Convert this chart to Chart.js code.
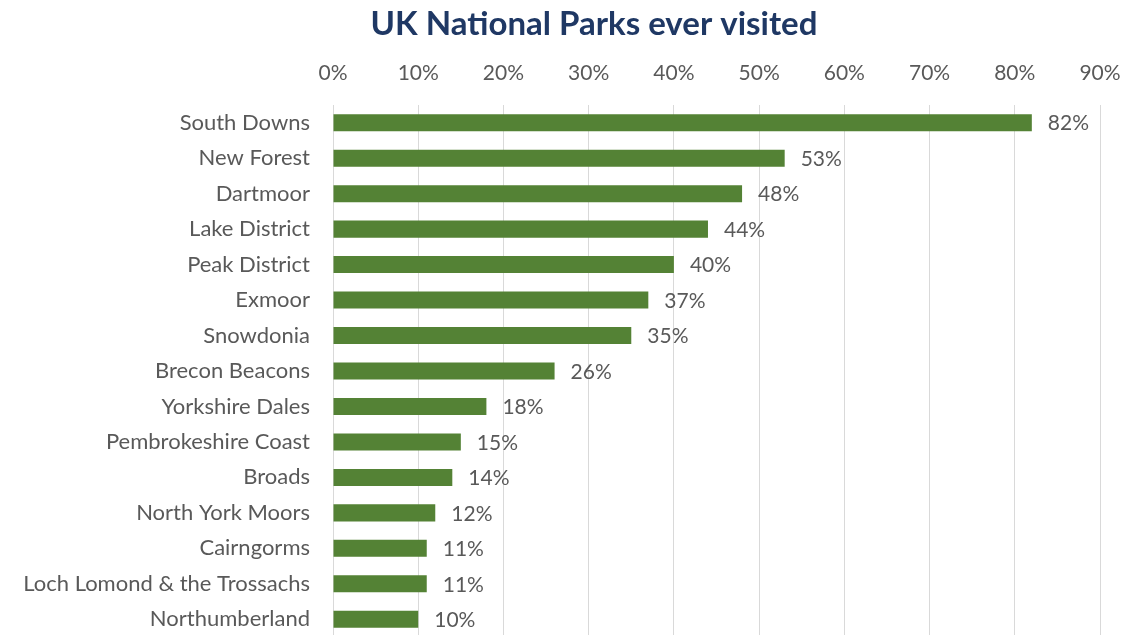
<!DOCTYPE html>
<html>
<head>
<meta charset="utf-8">
<title>UK National Parks ever visited</title>
<script src="https://cdn.jsdelivr.net/npm/chart.js@4/dist/chart.umd.min.js"></script>
<style>
  html, body { margin: 0; padding: 0; background: #fff; overflow: hidden; }
  #wrap { width: 1123px; height: 640px; }
</style>
</head>
<body>
<div id="wrap"><canvas id="parks-chart" width="1123" height="640"></canvas></div>
<script>
const chartTitle = "UK National Parks ever visited";
const parks = [
  "South Downs", "New Forest", "Dartmoor", "Lake District", "Peak District",
  "Exmoor", "Snowdonia", "Brecon Beacons", "Yorkshire Dales", "Pembrokeshire Coast",
  "Broads", "North York Moors", "Cairngorms", "Loch Lomond & the Trossachs", "Northumberland",
];
const visitedPct = [82, 53, 48, 44, 40, 37, 35, 26, 18, 15, 14, 12, 11, 11, 10];
const axisMax = 90;
const axisStep = 10;

const FONT = "Lato, 'Open Sans', sans-serif";
const TEXT = "#595959";

// title sits a little left of the plot centre, so it is drawn by hand
const titlePlugin = {
  id: "parkTitle",
  afterDraw(chart) {
    const ctx = chart.ctx;
    ctx.save();
    ctx.font = `bold 33px ${FONT}`;
    ctx.fillStyle = "#1F3864";
    ctx.textAlign = "center";
    ctx.textBaseline = "middle";
    ctx.fillText(chartTitle, 594, 24);
    ctx.restore();
  },
};

// percentage printed just past the end of each bar
const valueLabels = {
  id: "valueLabels",
  afterDatasetsDraw(chart) {
    const ctx = chart.ctx;
    const meta = chart.getDatasetMeta(0);
    ctx.save();
    ctx.font = `21px ${FONT}`;
    ctx.fillStyle = TEXT;
    ctx.textAlign = "left";
    ctx.textBaseline = "middle";
    meta.data.forEach((bar, i) => {
      ctx.fillText(`${visitedPct[i]}%`, bar.x + 16, bar.y + 1);
    });
    ctx.restore();
  },
};

// drop the label-overflow padding so the plot box keeps its exact size
function noPadding(scale) {
  scale.paddingTop = 0;
  scale.paddingBottom = 0;
  scale.paddingLeft = 0;
  scale.paddingRight = 0;
}

new Chart(document.getElementById("parks-chart"), {
  type: "bar",
  data: {
    labels: parks,
    datasets: [
      {
        label: chartTitle,
        data: visitedPct,
        backgroundColor: "#548235",
        borderWidth: 0,
        categoryPercentage: 1,
        barPercentage: 0.48,
      },
    ],
  },
  options: {
    indexAxis: "y",
    responsive: false,
    animation: false,
    layout: { padding: { top: 60, right: 23, bottom: 3, left: 0 } },
    plugins: {
      legend: { display: false },
      title: { display: false },
      tooltip: { enabled: false },
    },
    scales: {
      x: {
        position: "top",
        min: 0,
        max: axisMax,
        ticks: {
          stepSize: axisStep,
          padding: 19,
          color: TEXT,
          font: { family: FONT, size: 21 },
          callback: (value) => `${value}%`,
        },
        grid: { color: "#D9D9D9", lineWidth: 1, drawTicks: false },
        border: { display: false },
        afterFit: (scale) => {
          scale.height = 45;
          noPadding(scale);
        },
      },
      y: {
        ticks: {
          padding: 23,
          color: TEXT,
          font: { family: FONT, size: 22 },
          autoSkip: false,
        },
        grid: { display: false, drawTicks: false },
        border: { display: false },
        afterFit: (scale) => {
          scale.width = 333;
          noPadding(scale);
        },
      },
    },
  },
  plugins: [titlePlugin, valueLabels],
});
</script>
</body>
</html>
